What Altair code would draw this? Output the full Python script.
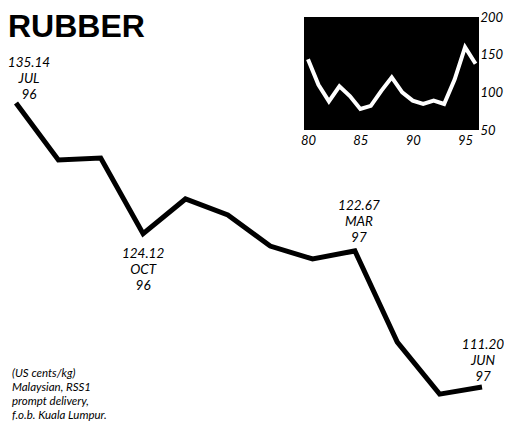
import altair as alt
import pandas as pd

# ---- data ----
months = ["JUL 96", "AUG 96", "SEP 96", "OCT 96", "NOV 96", "DEC 96",
          "JAN 97", "FEB 97", "MAR 97", "APR 97", "MAY 97", "JUN 97"]
prices = [135.14, 130.33, 130.50, 124.12, 127.05, 125.70,
          123.08, 121.99, 122.67, 114.99, 110.60, 111.20]

label_months = ["JUL 96", "OCT 96", "MAR 97", "JUN 97"]
label_texts = ["135.14\nJUL\n96", "124.12\nOCT\n96", "122.67\nMAR\n97", "111.20\nJUN\n97"]
label_values = [135.14, 124.12, 122.67, 111.20]

inset_years = list(range(80, 97))
inset_values = [144, 110, 88, 108, 95, 78, 82, 102, 120, 100, 89, 84.5, 89, 84.5, 117, 160, 138]
inset_ticks_x = [80, 85, 90, 95]
inset_ticks_y = [50, 100, 150, 200]

title_text = "RUBBER"
footnote = ["(US cents/kg)", "Malaysian, RSS1", "prompt delivery,", "f.o.b. Kuala Lumpur."]

FONT = "Lato"

main_df = pd.DataFrame({"month": months, "price": prices})
lab_df = pd.DataFrame({"month": label_months, "price": label_values, "text": label_texts})
inset_df = pd.DataFrame({"year": inset_years, "value": inset_values})
box_df = pd.DataFrame({"x0": [79.62], "x1": [96.33], "y0": [50], "y1": [200]})

xs = alt.Scale(type="point", domain=months, range=[8, 474], padding=0)
ys = alt.Scale(domain=[111.20, 135.14], range=[379, 95], zero=False, nice=False)

main_line = alt.Chart(main_df).mark_line(
    color="black", strokeWidth=5, strokeJoin="miter", strokeCap="butt"
).encode(
    x=alt.X("month:O", scale=xs, axis=None),
    y=alt.Y("price:Q", scale=ys, axis=None),
)

def lab(which, dx, dy):
    d = lab_df[lab_df["month"].isin(which)]
    return alt.Chart(d).mark_text(
        font=FONT, fontStyle="italic", fontSize=13.5, lineHeight=16,
        lineBreak="\n", color="black", baseline="top", dx=dx, dy=dy
    ).encode(
        x=alt.X("month:O", scale=xs, axis=None),
        y=alt.Y("price:Q", scale=ys, axis=None),
        text="text:N",
    )

lab_jul = lab(["JUL 96"], 13, -47)
lab_oct = lab(["OCT 96"], 0, 13)
lab_mar = lab(["MAR 97"], 4, -52)
lab_jun = lab(["JUN 97"], 1, -49)

foot = alt.Chart(pd.DataFrame({"t": ["\n".join(footnote)]})).mark_text(
    font=FONT, fontStyle="italic", fontSize=11.5, lineHeight=14,
    lineBreak="\n", align="left", baseline="top", color="black"
).encode(x=alt.value(4), y=alt.value(360), text="t:N")

title = alt.Chart(pd.DataFrame({"t": [title_text]})).mark_text(
    font="Liberation Sans", fontWeight="bold", fontSize=32,
    align="left", baseline="alphabetic", color="black"
).encode(x=alt.value(0), y=alt.value(29), text="t:N")

main_layer = alt.layer(main_line, lab_jul, lab_oct, lab_mar, lab_jun, foot, title)

ixs = alt.Scale(domain=[79.62, 96.33], range=[296, 471], nice=False, zero=False)
iys = alt.Scale(domain=[50, 200], range=[122, 9], nice=False, zero=False)
ax_x = alt.Axis(orient="bottom", offset=-300, values=inset_ticks_x, format="d",
                domain=False, ticks=False, grid=False, title=None,
                labelFont=FONT, labelFontStyle="italic", labelFontSize=13,
                labelColor="black", labelPadding=4, labelFlush=False)
ax_y = alt.Axis(orient="right", offset=-25, values=inset_ticks_y, format="d",
                domain=False, ticks=False, grid=False, title=None,
                labelFont=FONT, labelFontStyle="italic", labelFontSize=13,
                labelColor="black", labelPadding=1, labelFlush=False)

box = alt.Chart(box_df).mark_rect(color="black").encode(
    x=alt.X("x0:Q", scale=ixs, axis=ax_x), x2="x1:Q",
    y=alt.Y("y0:Q", scale=iys, axis=ax_y), y2="y1:Q",
)
inset_line = alt.Chart(inset_df).mark_line(
    color="white", strokeWidth=4, strokeJoin="miter", clip=True
).encode(
    x=alt.X("year:Q", scale=ixs, axis=ax_x),
    y=alt.Y("value:Q", scale=iys, axis=ax_y),
)
inset_layer = alt.layer(box, inset_line)

chart = alt.layer(main_layer, inset_layer).resolve_scale(
    x="independent", y="independent"
).properties(
    width=496, height=422,
    autosize=alt.AutoSizeParams(type="none"),
    padding=0,
    background="white",
).configure_view(stroke=None)

chart.save("out.html", embed_options={"renderer": "svg", "actions": False})
